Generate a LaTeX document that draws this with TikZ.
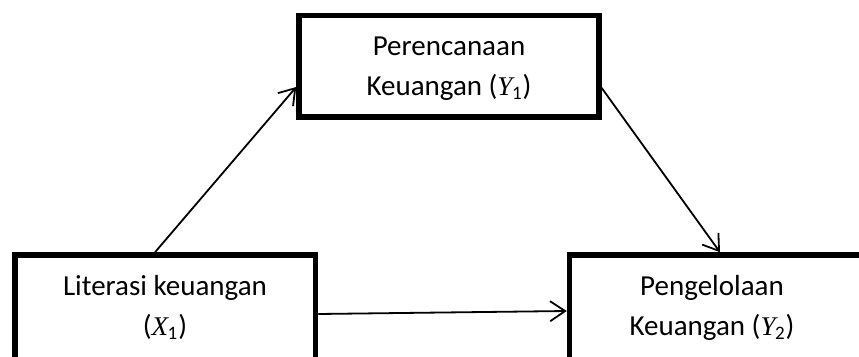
\RequirePackage{fix-cm}
\documentclass[tikz,border=0pt]{standalone}
\usepackage{fontspec}
\setmainfont{Carlito}
\newfontfamily\varfont{Liberation Serif}
\usetikzlibrary{arrows.meta}

% italic variable with an upright, lowered index
\newcommand{\mvar}[2]{{\varfont\fontsize{27}{27}\selectfont\itshape #1}\kern-0.5pt\raisebox{-4.5pt}{\fontsize{19}{19}\selectfont #2}\kern1pt}

\tikzset{
  box/.style={draw=black, line width=5.5pt, inner sep=0pt},
  lbl/.style={anchor=base, inner sep=0pt, font=\fontsize{29}{40}\selectfont},
  link/.style={line width=1.8pt, -{Straight Barb[length=15pt,width=20pt]}},
}

\begin{document}
\begin{tikzpicture}[x=1pt, y=-1pt]
  \useasboundingbox (0,0) rectangle (859,356);
  \clip (0,0) rectangle (859,356);

  % the three variables
  \node[box, minimum width=300pt,   minimum height=101.5pt] (plan) at (449,66.25)   {};
  \node[box, minimum width=300.5pt, minimum height=107pt]   (lit)  at (165.25,308.5) {};
  \node[box, minimum width=293.5pt, minimum height=107pt]   (mgmt) at (716.25,308.5) {};

  % their captions, one line at a time
  \node[lbl] (plan1) at (449,55)  {Perencanaan};
  \node[lbl] (plan2) at (449,95)  {Keuangan (\mvar{Y}{1})};
  \node[lbl] (lit1)  at (165,295) {Literasi keuangan};
  \node[lbl] (lit2)  at (165,335) {(\mvar{X}{1})};
  \node[lbl] (mgmt1) at (712,295) {Pengelolaan};
  \node[lbl] (mgmt2) at (712,335) {Keuangan (\mvar{Y}{2})};

  % paths between the variables
  \draw[link] ([xshift=-10.25pt]lit.north) -- ([yshift=-20.75pt]plan.west);
  \draw[link] ([yshift=-21.75pt]plan.east) -- ([xshift=3.75pt]mgmt.north);
  \draw[link] ([yshift=-5.5pt]lit.east)    -- ([yshift=-2.5pt]mgmt.west);
\end{tikzpicture}
\end{document}
